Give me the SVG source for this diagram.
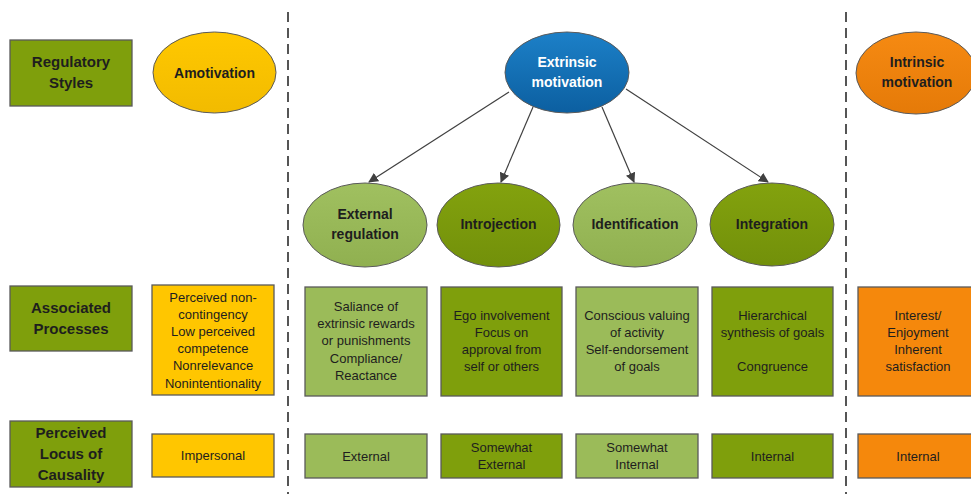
<svg xmlns="http://www.w3.org/2000/svg" width="971" height="494" viewBox="0 0 971 494">
  <defs>
    <linearGradient id="gBlue" x1="0" y1="0" x2="0" y2="1">
      <stop offset="0" stop-color="#1c80c8"/>
      <stop offset="1" stop-color="#0c5fa0"/>
    </linearGradient>
    <linearGradient id="gYellow" x1="0" y1="0" x2="0" y2="1">
      <stop offset="0" stop-color="#ffc800"/>
      <stop offset="1" stop-color="#f2bb00"/>
    </linearGradient>
    <linearGradient id="gOrange" x1="0" y1="0" x2="0" y2="1">
      <stop offset="0" stop-color="#f68a12"/>
      <stop offset="1" stop-color="#e57a08"/>
    </linearGradient>
    <linearGradient id="gLight" x1="0" y1="0" x2="0" y2="1">
      <stop offset="0" stop-color="#a0c060"/>
      <stop offset="1" stop-color="#90b050"/>
    </linearGradient>
    <linearGradient id="gDark" x1="0" y1="0" x2="0" y2="1">
      <stop offset="0" stop-color="#83a20e"/>
      <stop offset="1" stop-color="#72900a"/>
    </linearGradient>
    <marker id="arrow" viewBox="0 0 10 10" refX="9" refY="5" markerWidth="10" markerHeight="10" markerUnits="userSpaceOnUse" orient="auto">
      <path d="M0,0 L10,5 L0,10 Z" fill="#404040"/>
    </marker>
  </defs>
  <style>
    .box { stroke: #5a5a5a; stroke-width: 1.3; }
    .ell { stroke: #5a5a5a; stroke-width: 1; }
    .dark { fill: #7f9f0c; }
    .light { fill: #9bbb59; }
    .yellow { fill: #ffc600; }
    .orange { fill: #f5880c; }
    .title { font-family: "Liberation Sans", Arial, sans-serif; font-weight: bold; font-size: 15px; fill: #1e1e1e; text-anchor: middle; }
    .etitle { font-family: "Liberation Sans", Arial, sans-serif; font-weight: bold; font-size: 14px; fill: #1e1e1e; text-anchor: middle; }
    .body { font-family: "Liberation Sans", Arial, sans-serif; font-size: 13px; fill: #1e1e1e; text-anchor: middle; }
    .divider { stroke: #555555; stroke-width: 2; stroke-dasharray: 10 6; fill: none; }
    .conn { stroke: #404040; stroke-width: 1.2; fill: none; marker-end: url(#arrow); }
  </style>
  <rect width="971" height="494" fill="#ffffff"/>

  <!-- column dividers -->
  <g id="dividers">
    <line class="divider" x1="288" y1="12" x2="288" y2="494"/>
    <line class="divider" x1="846" y1="12" x2="846" y2="494"/>
  </g>

  <!-- row headers -->
  <g id="hdr-regulatory">
    <rect class="box dark" x="10" y="40" width="122" height="66"/>
    <text class="title" x="71" y="67">Regulatory</text>
    <text class="title" x="71" y="88">Styles</text>
  </g>
  <g id="hdr-processes">
    <rect class="box dark" x="10" y="286" width="122" height="65"/>
    <text class="title" x="71" y="313">Associated</text>
    <text class="title" x="71" y="334">Processes</text>
  </g>
  <g id="hdr-locus">
    <rect class="box dark" x="10" y="421" width="122" height="66"/>
    <text class="title" x="71" y="438">Perceived</text>
    <text class="title" x="71" y="459">Locus of</text>
    <text class="title" x="71" y="480">Causality</text>
  </g>

  <!-- amotivation column -->
  <g id="amotivation">
    <ellipse class="ell" cx="214.5" cy="72.5" rx="61.5" ry="40.5" fill="url(#gYellow)"/>
    <text class="etitle" x="214.5" y="77.5">Amotivation</text>
  </g>
  <g id="amotivation-processes">
    <rect class="box yellow" x="152" y="285" width="122" height="110"/>
    <text class="body" x="213" y="301.5">Perceived non-</text>
    <text class="body" x="213" y="318.7">contingency</text>
    <text class="body" x="213" y="335.9">Low perceived</text>
    <text class="body" x="213" y="353.1">competence</text>
    <text class="body" x="213" y="370.3">Nonrelevance</text>
    <text class="body" x="213" y="387.5">Nonintentionality</text>
  </g>
  <g id="amotivation-locus">
    <rect class="box yellow" x="152" y="434" width="122" height="43"/>
    <text class="body" x="213" y="460">Impersonal</text>
  </g>

  <!-- extrinsic motivation -->
  <g id="extrinsic">
    <ellipse class="ell" cx="567" cy="72.5" rx="62" ry="40.5" fill="url(#gBlue)"/>
    <text class="etitle" x="567" y="67" style="fill:#ffffff">Extrinsic</text>
    <text class="etitle" x="567" y="87" style="fill:#ffffff">motivation</text>
  </g>

  <g id="external-regulation">
    <ellipse class="ell" cx="365" cy="225" rx="62" ry="42" fill="url(#gLight)"/>
    <text class="etitle" x="365" y="219">External</text>
    <text class="etitle" x="365" y="239">regulation</text>
  </g>
  <g id="introjection">
    <ellipse class="ell" cx="498.5" cy="225" rx="61.5" ry="42" fill="url(#gDark)"/>
    <text class="etitle" x="498.5" y="229">Introjection</text>
  </g>
  <g id="identification">
    <ellipse class="ell" cx="635" cy="225" rx="62" ry="42" fill="url(#gLight)"/>
    <text class="etitle" x="635" y="229">Identification</text>
  </g>
  <g id="integration">
    <ellipse class="ell" cx="772" cy="224.5" rx="62" ry="41.5" fill="url(#gDark)"/>
    <text class="etitle" x="772" y="229">Integration</text>
  </g>

  <g id="external-processes">
    <rect class="box light" x="305" y="287" width="122" height="109"/>
    <text class="body" x="366" y="311">Saliance of</text>
    <text class="body" x="366" y="328.2">extrinsic rewards</text>
    <text class="body" x="366" y="345.4">or punishments</text>
    <text class="body" x="366" y="362.6">Compliance/</text>
    <text class="body" x="366" y="379.8">Reactance</text>
  </g>
  <g id="introjection-processes">
    <rect class="box dark" x="441" y="287" width="121" height="109"/>
    <text class="body" x="501.5" y="319.5">Ego involvement</text>
    <text class="body" x="501.5" y="336.7">Focus on</text>
    <text class="body" x="501.5" y="353.9">approval from</text>
    <text class="body" x="501.5" y="371.1">self or others</text>
  </g>
  <g id="identification-processes">
    <rect class="box light" x="576" y="287" width="122" height="109"/>
    <text class="body" x="637" y="319.5">Conscious valuing</text>
    <text class="body" x="637" y="336.7">of activity</text>
    <text class="body" x="637" y="353.9">Self-endorsement</text>
    <text class="body" x="637" y="371.1">of goals</text>
  </g>
  <g id="integration-processes">
    <rect class="box dark" x="712" y="287" width="121" height="109"/>
    <text class="body" x="772.5" y="319.5">Hierarchical</text>
    <text class="body" x="772.5" y="336.7">synthesis of goals</text>
    <text class="body" x="772.5" y="371.1">Congruence</text>
  </g>

  <g id="external-locus">
    <rect class="box light" x="305" y="434" width="122" height="44"/>
    <text class="body" x="366" y="460.5">External</text>
  </g>
  <g id="introjection-locus">
    <rect class="box dark" x="441" y="434" width="121" height="44"/>
    <text class="body" x="501.5" y="451.5">Somewhat</text>
    <text class="body" x="501.5" y="468.7">External</text>
  </g>
  <g id="identification-locus">
    <rect class="box light" x="576" y="434" width="122" height="44"/>
    <text class="body" x="637" y="451.5">Somewhat</text>
    <text class="body" x="637" y="468.7">Internal</text>
  </g>
  <g id="integration-locus">
    <rect class="box dark" x="712" y="434" width="121" height="44"/>
    <text class="body" x="772.5" y="460.5">Internal</text>
  </g>

  <!-- intrinsic motivation column -->
  <g id="intrinsic">
    <ellipse class="ell" cx="916" cy="73" rx="60" ry="41" fill="url(#gOrange)"/>
    <text class="etitle" x="917" y="67">Intrinsic</text>
    <text class="etitle" x="917" y="87">motivation</text>
  </g>
  <g id="intrinsic-processes">
    <rect class="box orange" x="858" y="287" width="118" height="109"/>
    <text class="body" x="918" y="319.5">Interest/</text>
    <text class="body" x="918" y="336.7">Enjoyment</text>
    <text class="body" x="918" y="353.9">Inherent</text>
    <text class="body" x="918" y="371.1">satisfaction</text>
  </g>
  <g id="intrinsic-locus">
    <rect class="box orange" x="858" y="434" width="118" height="44"/>
    <text class="body" x="918" y="460.5">Internal</text>
  </g>

  <!-- connectors from extrinsic motivation to its regulatory styles -->
  <g id="connectors">
    <line class="conn" x1="509" y1="92" x2="369" y2="182"/>
    <line class="conn" x1="533" y1="107" x2="501" y2="182"/>
    <line class="conn" x1="602" y1="107" x2="634" y2="182"/>
    <line class="conn" x1="626" y1="89" x2="768" y2="182"/>
  </g>
</svg>
